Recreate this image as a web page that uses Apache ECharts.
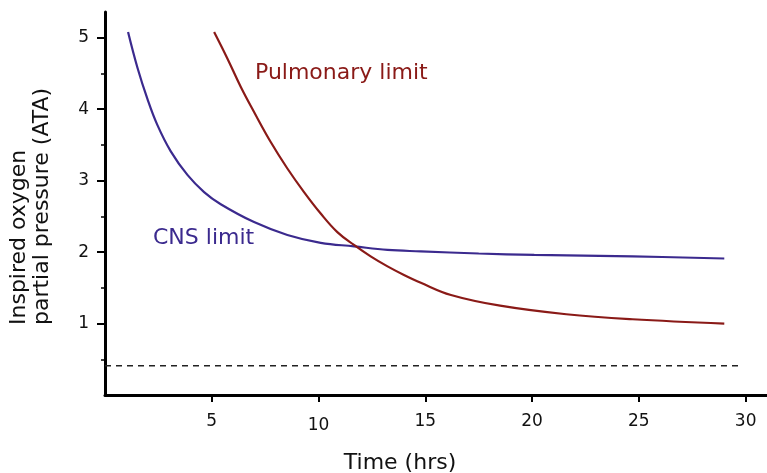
<!DOCTYPE html>
<html><head><meta charset="utf-8">
<script src="https://cdn.jsdelivr.net/npm/echarts@6/dist/echarts.min.js"></script>
<style>html,body{margin:0;padding:0;background:#fff}#c{width:767px;height:473px}</style>
</head><body><div id="c"></div>
<script>
// CNS oxygen toxicity limit
const cnsTime     = [1.08, 1.52, 1.99, 2.45, 3.08, 3.86, 4.64, 5.42, 6.98, 8.54, 10.10, 11.66, 13.23, 14.79, 17.5, 20.1, 24.7, 29.0];
const cnsPressure = [5.08, 4.58, 4.14, 3.78, 3.41, 3.08, 2.84, 2.67, 2.42, 2.24, 2.13, 2.08, 2.03, 2.01, 1.98, 1.96, 1.94, 1.91];
// Pulmonary oxygen toxicity limit
const pulmTime     = [5.11, 5.73, 6.36, 6.98, 7.76, 8.54, 9.32, 10.10, 10.88, 11.66, 12.44, 13.23, 14.0, 14.79, 16.2, 18.5, 21.6, 24.7, 29.0];
const pulmPressure = [5.08, 4.71, 4.31, 3.96, 3.54, 3.17, 2.84, 2.54, 2.28, 2.10, 1.94, 1.80, 1.68, 1.57, 1.40, 1.25, 1.13, 1.06, 1.00];
// dashed reference level
const refTime = [0, 29.8];
const refPressure = [0.41, 0.41];
// ticks
const xTickStep = 5;
const xTickValues = [5, 10, 15, 20, 25, 30];
const yTickValues = [1, 2, 3, 4, 5];
const yMinorTickValues = [0.5, 1.5, 2.5, 3.5, 4.5];
// texts
const xTitle = 'Time (hrs)';
const yTitle = 'Inspired oxygen\npartial pressure (ATA)';
const cnsLabel = 'CNS limit';
const pulmLabel = 'Pulmonary limit';

const FONT = '"DejaVu Sans", Verdana, sans-serif';
const BLUE = '#3b2a8e';
const RED = '#8a1a17';
const zip = (a, b) => a.map((v, i) => [v, b[i]]);
const Y_MAX = 5.36, X_MAX = 31;
const gridRect = {left: 105, right: 0, top: 12, bottom: 78, containLabel: false};

const chart = echarts.init(document.getElementById('c'), null, {renderer: 'canvas'});
chart.setOption({
  animation: false,
  grid: [
    Object.assign({}, gridRect),
    Object.assign({}, gridRect),
    {left: 105, right: 0, top: 396, height: 6, containLabel: false}   // strip holding the x tick marks
  ],
  xAxis: [
    {
      type: 'value', gridIndex: 0, min: 0, max: X_MAX,
      axisLine: {show: true, onZero: false, lineStyle: {color: '#000', width: 3}},
      axisTick: {show: true, customValues: xTickValues, length: 7, lineStyle: {color: '#000', width: 2}},
      axisLabel: {
        customValues: xTickValues, margin: 18, color: '#111', fontFamily: FONT, fontSize: 17,
        formatter: v => v === 10 ? '{low|10}' : String(v),
        rich: {low: {fontFamily: FONT, fontSize: 17, color: '#111', padding: [4, 0, 0, 0]}}
      },
      splitLine: {show: false}
    },
    {type: 'value', gridIndex: 1, min: 0, max: X_MAX, show: false},
    {
      type: 'value', gridIndex: 2, min: 0, max: X_MAX, interval: xTickStep,
      axisLine: {show: false, onZero: false}, axisTick: {show: false}, axisLabel: {show: false},
      splitLine: {show: true, showMinLine: false, showMaxLine: false, lineStyle: {color: '#000', width: 2}}
    }
  ],
  yAxis: [
    {
      type: 'value', gridIndex: 0, min: 0, max: Y_MAX,
      axisLine: {show: true, onZero: false, lineStyle: {color: '#000', width: 3}},
      axisTick: {show: true, customValues: yTickValues, length: 8, lineStyle: {color: '#000', width: 2}},
      axisLabel: {customValues: yTickValues, margin: 16, color: '#111', fontFamily: FONT, fontSize: 17},
      splitLine: {show: false}
    },
    {
      type: 'value', gridIndex: 1, min: 0, max: Y_MAX,
      axisLine: {show: false, onZero: false},
      axisTick: {show: true, customValues: yMinorTickValues, length: 4, lineStyle: {color: '#000', width: 1.5}},
      axisLabel: {show: false},
      splitLine: {show: false}
    },
    {type: 'value', gridIndex: 2, min: 0, max: 1, show: false}
  ],
  series: [
    {
      name: cnsLabel, type: 'line', xAxisIndex: 0, yAxisIndex: 0, data: zip(cnsTime, cnsPressure),
      smooth: 0.4, showSymbol: false, symbol: 'none',
      lineStyle: {color: BLUE, width: 2.2}
    },
    {
      name: pulmLabel, type: 'line', xAxisIndex: 0, yAxisIndex: 0, data: zip(pulmTime, pulmPressure),
      smooth: 0.4, showSymbol: false, symbol: 'none',
      lineStyle: {color: RED, width: 2.2}
    },
    {
      name: 'reference', type: 'line', xAxisIndex: 0, yAxisIndex: 0, data: zip(refTime, refPressure),
      showSymbol: false, symbol: 'none',
      lineStyle: {color: '#222', width: 1.5, type: [6, 5]}
    }
  ],
  graphic: [
    {type: 'text', x: 31, y: 325, rotation: Math.PI / 2,
     style: {text: yTitle, fill: '#111', font: '22px ' + FONT, textAlign: 'left', textVerticalAlign: 'middle', lineHeight: 23}},
    {type: 'text', x: 400, y: 463,
     style: {text: xTitle, fill: '#111', font: '22px ' + FONT, textAlign: 'center', textVerticalAlign: 'middle'}},
    {type: 'text', x: 255, y: 73,
     style: {text: pulmLabel, fill: RED, font: '22px ' + FONT, textAlign: 'left', textVerticalAlign: 'middle'}},
    {type: 'text', x: 153, y: 238,
     style: {text: cnsLabel, fill: BLUE, font: '22px ' + FONT, textAlign: 'left', textVerticalAlign: 'middle'}}
  ]
});
</script>
</body></html>
